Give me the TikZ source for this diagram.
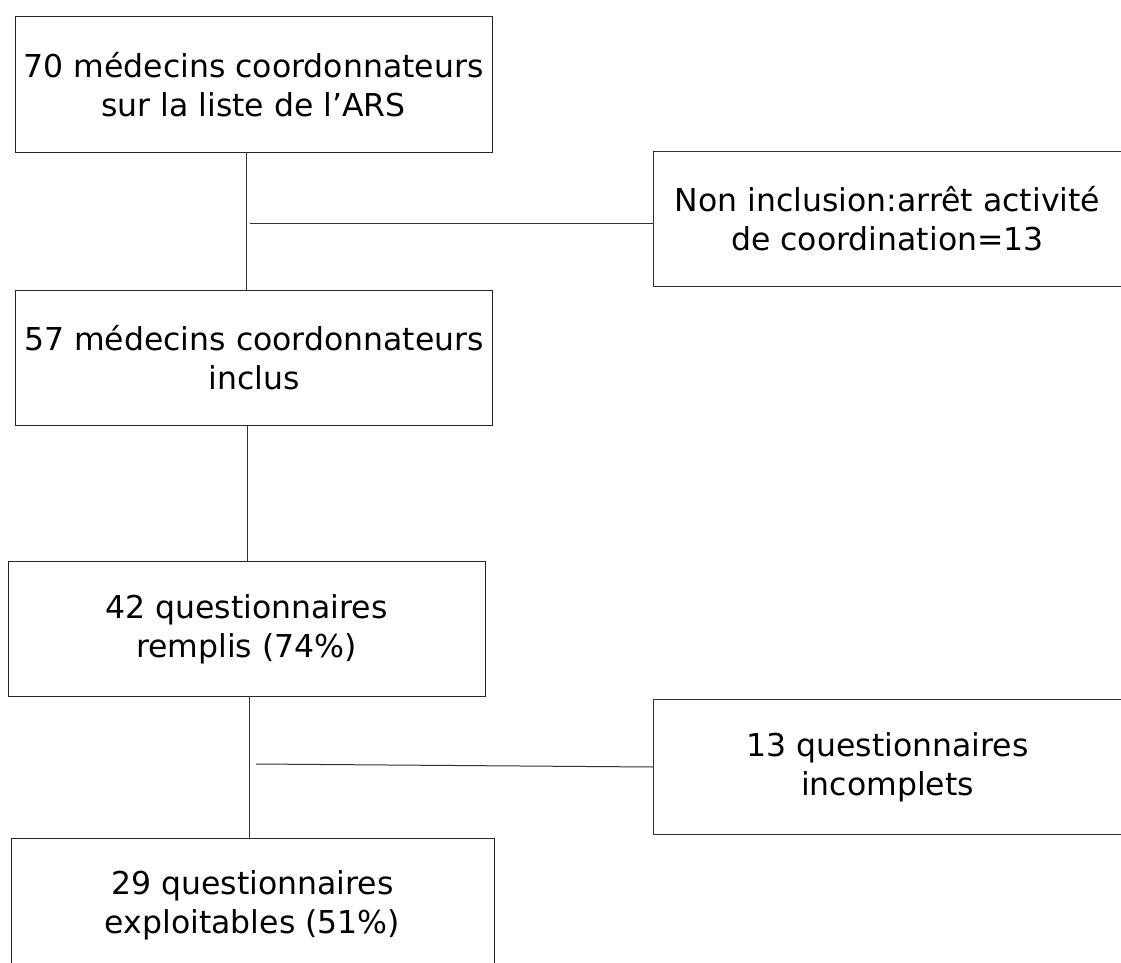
\documentclass[tikz,border=0pt]{standalone}
\usepackage{fontspec}
\setmainfont{DejaVu Sans}
\usetikzlibrary{positioning}

\begin{document}
\begin{tikzpicture}[
                x = 1pt, y = -1pt, % pixel grid of the chart
                line width = 1pt,
                every node/.style = {font=\fontsize{31.5}{39}\selectfont, align=center, inner sep=0pt}
        ]

        \tikzstyle{stepbox}=[
            draw = black!85,
            minimum width = 477pt,
            minimum height = 135pt
        ]
        \tikzstyle{sidebox}=[
            minimum width = 467pt,
            minimum height = 134pt
        ]
        \tikzstyle{link}=[draw = black!80]

        \useasboundingbox (0,0) rectangle (1121,963);

        % main column
        \node[stepbox] (Liste) at (253.5,84.5) {70 médecins coordonnateurs\\sur la liste de l’ARS};
        \node[stepbox] (Inclus) at (254,358) {57 médecins coordonnateurs\\inclus};
        \node[stepbox] (Remplis) at (246.5,629) {42 questionnaires\\remplis (74\%)};
        \node[stepbox, minimum width = 483pt, minimum height = 134pt] (Exploit) at (252.5,905) {29 questionnaires\\exploitables (51\%)};

        % exclusions, cut by the right edge
        \node[sidebox] (NonIncl) at (887.5,219) {Non inclusion:arrêt activité\\de coordination=13};
        \node[sidebox] (Incompl) at (887.5,767) {13 questionnaires\\incomplets};
        \draw[link] (NonIncl.north east) -- (NonIncl.north west) -- (NonIncl.south west) -- (NonIncl.south east);
        \draw[link] (Incompl.north east) -- (Incompl.north west) -- (Incompl.south west) -- (Incompl.south east);

        \coordinate (J1) at (250,223);
        \coordinate (J2) at (256,764);

        \draw[link] (Liste.south -| 246,0) -- (Inclus.north -| 246,0);
        \draw[link] (Inclus.south -| 247,0) -- (Remplis.north -| 247,0);
        \draw[link] (Remplis.south -| 249,0) -- (Exploit.north -| 249,0);
        \draw[link] (J1) -- (J1 -| NonIncl.west);
        \draw[link] (J2) -- (Incompl.west);

        \end{tikzpicture}
\end{document}
